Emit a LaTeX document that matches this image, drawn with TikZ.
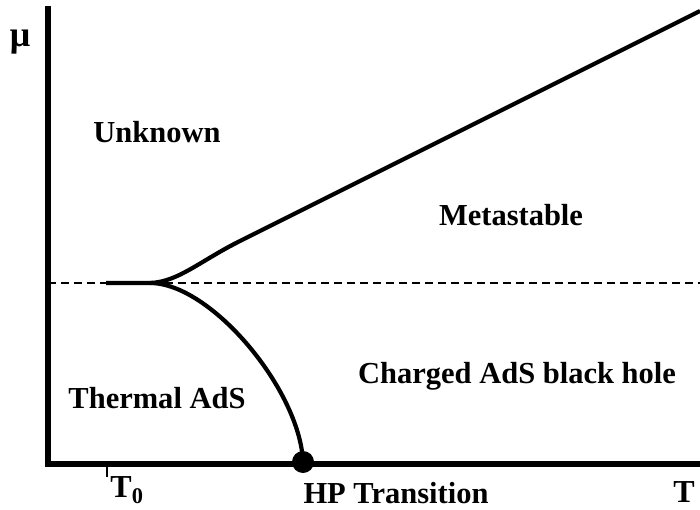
\documentclass[tikz,border=0pt]{standalone}
\usepackage{fontspec}
\setmainfont{Liberation Serif}
\begin{document}
\begin{tikzpicture}[x=1pt,y=-1pt,
  axis/.style={line width=5.5pt},
  curve/.style={line width=4.2pt},
  lbl/.style={font=\fontsize{30.5}{32}\selectfont\bfseries, inner sep=0pt}]
\useasboundingbox (0,0) rectangle (700,510);
% axes
\coordinate (O) at (48,464);
\coordinate (Ytop) at (48,6);
\coordinate (Xend) at (700,464);
\draw[axis] (Ytop) -- (O) -- (Xend);
% dashed line
\coordinate (DL) at (48,283);
\coordinate (DR) at (700,283);
\draw[line width=2.3pt, dash pattern=on 8pt off 5pt] (DL) -- (DR);
% tick T0
\coordinate (t0a) at (107,462);
\coordinate (t0b) at (107,477);
\draw[line width=2.8pt] (t0a) -- (t0b);
% curves
\coordinate (start) at (106,283);
\coordinate (cusp) at (150,283);
\coordinate (up1) at (240,241);
\coordinate (upend) at (700,11);
\coordinate (hp) at (303,462);
\draw[curve] (start) -- (cusp) .. controls (178,282) and (200,261) .. (up1) -- (upend);
\draw[curve] (cusp) .. controls (211,283) and (300,390) .. (hp);
\node[circle, fill=black, minimum size=22pt, inner sep=0pt] (dot) at (hp) {};
% labels
\node[font=\fontsize{36}{38}\selectfont\bfseries, inner sep=0pt] (mu) at (20,42) {μ};
\node[lbl] (unk) at (157,132) {Unknown};
\node[lbl] (meta) at (511,215) {Metastable};
\node[lbl] (cads) at (517,376) {Charged AdS black hole};
\node[lbl] (tads) at (157,398) {Thermal AdS};
\node[lbl, anchor=base] (hpt) at (396,503) {HP Transition};
\node[font=\fontsize{32}{34}\selectfont\bfseries, inner sep=0pt, anchor=base] (T0) at (127,497) {T\textsubscript{0}};
\node[font=\fontsize{32}{34}\selectfont\bfseries, inner sep=0pt, anchor=base] (T) at (684,502) {T};
\end{tikzpicture}
\end{document}
